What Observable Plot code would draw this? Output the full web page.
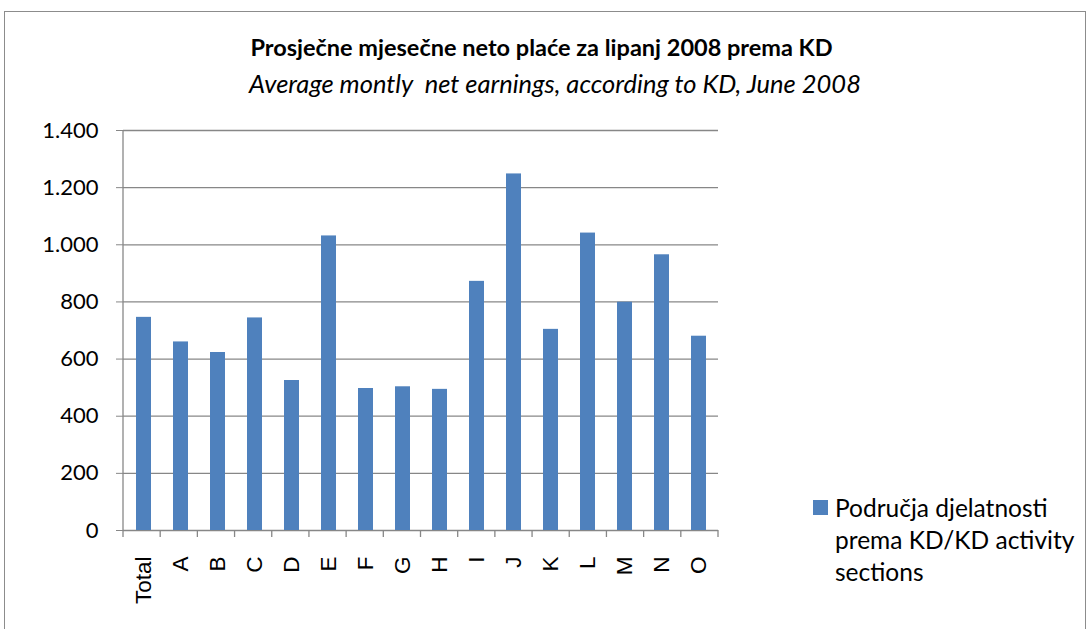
<!DOCTYPE html>
<html><head><meta charset="utf-8">
<script src="https://cdn.jsdelivr.net/npm/d3@7"></script>
<script src="https://cdn.jsdelivr.net/npm/@observablehq/plot@0.6"></script>
<style>
body{margin:0;background:#fff;}
#wrap{position:relative;width:1089px;height:629px;overflow:hidden;font-family:Lato,sans-serif;color:#000;}
#frame{position:absolute;left:4px;top:11px;width:1082px;height:700px;border:1.5px solid #8c8c8c;box-sizing:border-box;}
#title{position:absolute;left:0;width:1083px;top:33px;text-align:center;font-weight:bold;font-size:23.5px;line-height:28px;}
#subtitle{position:absolute;left:0;width:1110px;top:68px;text-align:center;font-style:italic;font-size:25.5px;line-height:30px;white-space:pre;}
#chart{position:absolute;left:0;top:110px;}
#legend{position:absolute;left:813px;top:492px;font-size:24.5px;line-height:32px;}
#legend .sw{position:absolute;left:0;top:8px;width:15px;height:15px;background:#4f81bd;}
#legend .tx{position:absolute;left:22px;top:0;white-space:nowrap;}
</style></head>
<body>
<div id="wrap">
  <div id="frame"></div>
  <div id="title">Prosječne mjesečne neto plaće za lipanj 2008 prema KD</div>
  <div id="subtitle">Average montly  net earnings, according to KD, June 2008</div>
  <div id="chart"></div>
  <div id="legend"><div class="sw"></div><div class="tx">Područja djelatnosti<br>prema KD/KD activity<br>sections</div></div>
</div>
<script>
const categories = ["Total","A","B","C","D","E","F","G","H","I","J","K","L","M","N","O"];
const earnings = [746, 660, 623, 744, 525, 1031, 497, 503, 494, 872, 1248, 704, 1041, 799, 965, 680];
const yTicks = [0, 200, 400, 600, 800, 1000, 1200, 1400];

const data = categories.map((c, i) => ({category: c, value: earnings[i]}));
const gray = "#878787";
const fmt = d => d3.format(",")(d).replace(/,/g, ".");

const axisLines = (index, scales, values, dim) => {
  const g = d3.create("svg:g").attr("stroke", gray).attr("stroke-width", 1.3);
  const x0 = dim.marginLeft, x1 = dim.width - dim.marginRight;
  const y0 = dim.marginTop, y1 = dim.height - dim.marginBottom;
  g.append("line").attr("x1", x0).attr("x2", x0).attr("y1", y0).attr("y2", y1);
  const step = (x1 - x0) / categories.length;
  for (let i = 0; i <= categories.length; i++) {
    const x = x0 + i * step;
    g.append("line").attr("x1", x).attr("x2", x).attr("y1", y1).attr("y2", y1 + 7);
  }
  return g.node();
};

const plot = Plot.plot({
  width: 720,
  height: 510,
  marginLeft: 123,
  marginRight: 2,
  marginTop: 20,
  marginBottom: 90,
  style: {fontFamily: "Lato, sans-serif", color: "#000", background: "transparent"},
  x: {domain: categories, paddingInner: 0.6, paddingOuter: 0.3},
  y: {domain: [0, 1400]},
  marks: [
    Plot.gridY(yTicks, {stroke: gray, strokeOpacity: 1, strokeWidth: 1.3}),
    Plot.barY(data, {x: "category", y: "value", fill: "#4f81bd"}),
    axisLines,
    Plot.axisY(yTicks, {tickSize: 7, tickPadding: 18, tickFormat: fmt, fontSize: 22, stroke: gray, fill: "#000", label: null}),
    Plot.axisX({tickSize: 0, tickPadding: 26, tickRotate: -90, fontSize: 22.5, fontFamily: "Liberation Sans", fill: "#000", label: null})
  ]
});
document.getElementById("chart").appendChild(plot);
</script>
</body></html>
